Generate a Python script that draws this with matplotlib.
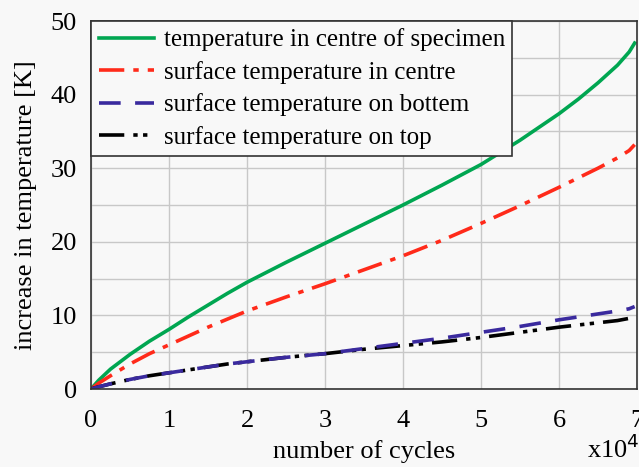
import matplotlib
matplotlib.use("Agg")
import matplotlib.pyplot as plt
import numpy as np

# cycles (x10^4) and temperature increase [K]
cycles = [0, 0.1, 0.25, 0.5, 0.75, 1, 1.25, 1.5, 1.75, 2, 2.5, 3, 3.5, 4, 4.5, 5, 5.5, 6, 6.25, 6.5, 6.75, 6.9, 6.97]
centre = [0, 1.2, 2.7, 4.7, 6.5, 8.1, 9.8, 11.4, 13.0, 14.5, 17.2, 19.8, 22.4, 25.0, 27.7, 30.5, 33.8, 37.4, 39.4, 41.6, 44.0, 45.8, 47.0]
surf_centre = [0, 0.8, 1.8, 3.4, 4.8, 6.0, 7.2, 8.4, 9.5, 10.6, 12.5, 14.3, 16.2, 18.1, 20.2, 22.5, 24.9, 27.4, 28.7, 30.0, 31.4, 32.4, 33.2]
surf_bottom = [0, 0.3, 0.7, 1.3, 1.8, 2.2, 2.6, 3.0, 3.4, 3.7, 4.3, 4.8, 5.5, 6.2, 6.9, 7.7, 8.5, 9.4, 9.8, 10.2, 10.6, 10.9, 11.2]
surf_top = [0, 0.3, 0.7, 1.3, 1.8, 2.2, 2.6, 3.0, 3.4, 3.7, 4.3, 4.8, 5.4, 5.9, 6.4, 7.0, 7.7, 8.4, 8.7, 9.0, 9.3, 9.6, 9.8]

plt.rcParams['font.family'] = ['Liberation Serif', 'DejaVu Serif']

fig = plt.figure(figsize=(6.39, 4.67), dpi=100, facecolor='#f8f8f8')
ax = fig.add_axes([91/639, 1-389/467, 546/639, 368/467])
ax.set_facecolor('#f8f8f8')

l1, = ax.plot(cycles, centre, color='#00a651', lw=2.6, label='temperature in centre of specimen')
l2, = ax.plot(cycles, surf_centre, color='#ff2a1a', lw=2.6, dashes=(7, 2.5, 1.5, 2.5), label='surface temperature in centre')
l4, = ax.plot(cycles, surf_top, color='black', lw=2.6, dashes=(7, 2.5, 1.2, 1.5, 1.2, 2.5), label='surface temperature on top')
l3, = ax.plot(cycles, surf_bottom, color='#3a2a9e', lw=2.6, dashes=(6, 4), label='surface temperature on bottem')
handles = [l1, l2, l3, l4]

ax.set_xlim(0, 7)
ax.set_ylim(0, 50)
ax.set_xticks(range(0, 8))
ax.set_yticks(range(0, 51, 10))
ax.set_yticks(range(5, 50, 10), minor=True)
ax.grid(True, which='both', color='#c8c8c8', lw=1)
ax.set_axisbelow(True)
ax.tick_params(axis='x', length=0, labelsize=19, pad=15)
ax.tick_params(axis='y', length=0, labelsize=19, pad=10)
ax.tick_params(which='minor', length=0)
for s in ax.spines.values():
    s.set_color('#333333')
    s.set_linewidth(1.2)

ax.set_xlabel('number of cycles', fontsize=19, labelpad=6)
ax.set_ylabel('increase in temperature [K]', fontsize=19, labelpad=10)
fig.text(587/639, 1-463/467, r'x10$^{4}$', fontsize=19, ha='left', va='bottom')

leg = ax.legend(handles, [h.get_label() for h in handles], loc='upper left',
                bbox_to_anchor=(0, 1), fontsize=18, fancybox=False, framealpha=1,
                edgecolor='#333333', facecolor='#f8f8f8', borderaxespad=0,
                handlelength=2.2, handletextpad=0.4, borderpad=0.3, labelspacing=0.38)
leg.get_frame().set_linewidth(1.2)

fig.savefig('out.png', dpi=100, facecolor=fig.get_facecolor())
